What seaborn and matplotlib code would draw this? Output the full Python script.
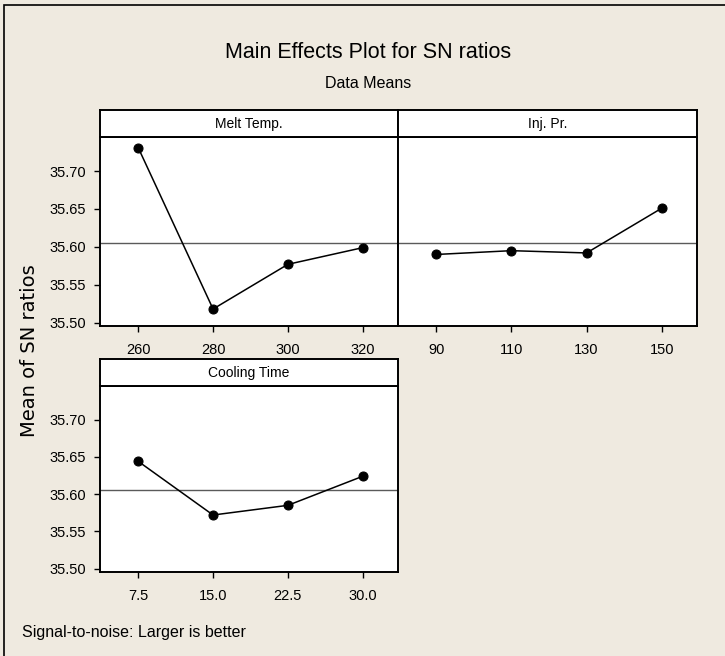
'''
Main effects plot for SN ratios (Minitab style) rebuilt with seaborn
'''

import pandas as pd
import seaborn as sns
import matplotlib.pyplot as plt
from matplotlib.patches import Rectangle

# factor levels and mean SN ratios
melt_levels = ['260', '280', '300', '320']
melt_sn = [35.731, 35.518, 35.577, 35.599]

inj_levels = ['90', '110', '130', '150']
inj_sn = [35.590, 35.595, 35.592, 35.651]

cool_levels = ['7.5', '15.0', '22.5', '30.0']
cool_sn = [35.644, 35.572, 35.585, 35.624]

overall_mean = 35.6055
y_ticks = [35.50, 35.55, 35.60, 35.65, 35.70]

BG = '#EFEAE0'

sns.set_style('ticks')
plt.rcParams['font.family'] = ['Liberation Sans', 'DejaVu Sans']
plt.rcParams['text.color'] = 'black'
plt.rcParams['xtick.labelcolor'] = 'black'
plt.rcParams['ytick.labelcolor'] = 'black'


def panel(fig, rect, head_h, levels, values, name, show_y):
    ax = fig.add_axes(rect)
    df = pd.DataFrame({'pos': range(len(levels)), 'sn': values})
    ax.axhline(overall_mean, color='#5a5a5a', lw=1.0, zorder=1)
    sns.lineplot(data=df, x='pos', y='sn', ax=ax, color='black', lw=1.1,
                 marker='o', markersize=6.5, markeredgecolor='black', zorder=3)
    ax.set_xlim(-0.51, 3.47)
    ax.set_ylim(35.4956, 35.745)
    ax.set_xticks(range(len(levels)))
    ax.set_xticklabels(levels)
    ax.set_yticks(y_ticks)
    ax.set_yticklabels(['%.2f' % t for t in y_ticks])
    ax.set_xlabel('')
    ax.set_ylabel('')
    ax.set_facecolor('white')
    for s in ax.spines.values():
        s.set_visible(True)
        s.set_color('black')
        s.set_linewidth(1.4)
    ax.tick_params(axis='both', direction='out', length=4, width=1,
                   color='black', labelsize=10.5, pad=6)
    ax.tick_params(axis='x', pad=8)
    if not show_y:
        ax.tick_params(axis='y', left=False, labelleft=False)

    # strip header on top of the panel
    hx, hy, hw, hh = rect[0], rect[1] + rect[3], rect[2], head_h
    hax = fig.add_axes([hx, hy, hw, hh])
    hax.set_facecolor('white')
    hax.set_xticks([])
    hax.set_yticks([])
    for s in hax.spines.values():
        s.set_color('black')
        s.set_linewidth(1.4)
    hax.text(0.5, 0.48, name, ha='center', va='center', fontsize=10)
    return ax


def main():
    fig = plt.figure(figsize=(7.25, 6.56), dpi=100)
    fig.patch.set_facecolor(BG)

    # outer frame, only the left and top edges show
    fig.patches.append(Rectangle((4 / 725, -0.1), 1.2, 1.1 - 5 / 656,
                                 transform=fig.transFigure, fill=False,
                                 edgecolor='black', lw=1.2))

    head = 27 / 656
    panel(fig, [100 / 725, 1 - 326 / 656, 298 / 725, 189 / 656], head,
          melt_levels, melt_sn, 'Melt Temp.', True)
    panel(fig, [398 / 725, 1 - 326 / 656, 299 / 725, 189 / 656], head,
          inj_levels, inj_sn, 'Inj. Pr.', False)
    panel(fig, [100 / 725, 1 - 572 / 656, 298 / 725, 186 / 656], head,
          cool_levels, cool_sn, 'Cooling Time', True)

    fig.text(368 / 725, 1 - 53 / 656, 'Main Effects Plot for SN ratios',
             ha='center', va='center', fontsize=15.5)
    fig.text(368 / 725, 1 - 83 / 656, 'Data Means',
             ha='center', va='center', fontsize=11.5)
    fig.text(30 / 725, 1 - 351 / 656, 'Mean of SN ratios', rotation=90,
             ha='center', va='center', fontsize=14,
             family=['DejaVu Sans'])
    fig.text(22 / 725, 1 - 632 / 656, 'Signal-to-noise: Larger is better',
             ha='left', va='center', fontsize=11.5)

    fig.savefig('out.png', dpi=100, facecolor=BG)


if __name__ == '__main__':
    main()
